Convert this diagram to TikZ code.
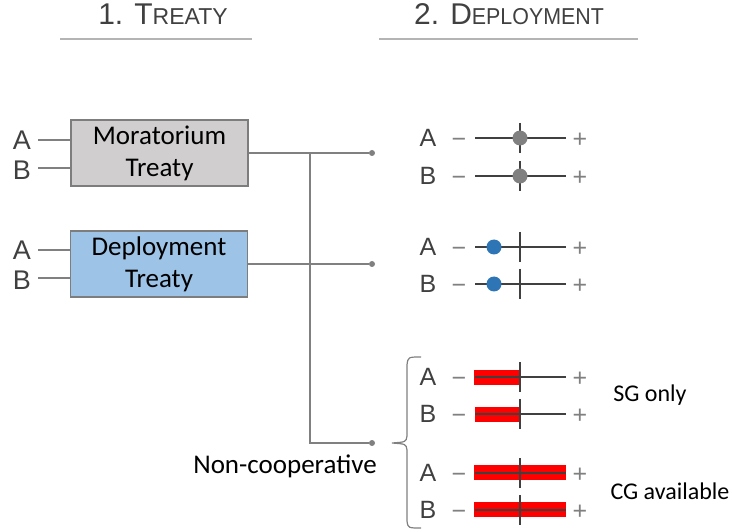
\documentclass[tikz,border=0pt]{standalone}
\usepackage{fontspec}
\usepackage{graphicx}
\setmainfont{Liberation Sans}
\newfontfamily\calibri{Carlito}
\usetikzlibrary{positioning}

\definecolor{txtgray}{RGB}{64,64,64}
\definecolor{pmgray}{RGB}{128,128,128}
\definecolor{rulegray}{RGB}{180,180,180}
\definecolor{conngray}{RGB}{128,128,128}
\definecolor{boxline}{RGB}{125,125,125}
\definecolor{morfill}{RGB}{208,206,206}
\definecolor{depfill}{RGB}{157,195,230}
\definecolor{dotblue}{RGB}{46,117,182}
\definecolor{barred}{RGB}{255,0,0}

\tikzset{
  heading/.style={text=txtgray, inner sep=0pt, font=\fontsize{30}{30}\selectfont},
  rule/.style={draw=rulegray, line width=2pt},
  treaty/.style={draw=boxline, line width=1.2pt, minimum width=177pt, minimum height=66pt,
    align=center, inner sep=0pt, font=\calibri\fontsize{27}{32}\selectfont},
  player/.style={text=txtgray, inner sep=2pt, font=\fontsize{27}{27}\selectfont},
  pm/.style={text=pmgray, inner sep=0pt, font=\fontsize{25}{25}\selectfont},
  feed/.style={draw=conngray, line width=1.2pt},
  conn/.style={draw=conngray, line width=1.5pt},
  enddot/.style={circle, fill=conngray, minimum size=6pt, inner sep=0pt},
  scaleline/.style={draw=txtgray, line width=1.5pt},
  graydot/.style={circle, fill=pmgray, minimum size=15pt, inner sep=0pt},
  bluedot/.style={circle, fill=dotblue, minimum size=15pt, inner sep=0pt},
  redbar/.style={fill=barred},
  note/.style={inner sep=0pt, font=\calibri\fontsize{24}{24}\selectfont},
}

% one slider row: name, y, player
\newcommand{\scalerow}[3]{%
  \node[player, font=\fontsize{25}{25}\selectfont] (#1) at (428,#2) {#3};
  \node[pm] (#1m) at (459,#2+5) {\symbol{"2212}};
  \node[pm] (#1p) at (580,#2+2) {+};
  \draw[scaleline] (475,#2) -- (566,#2);
  \draw[scaleline] (520,#2-15) -- (520,#2+15);
}

\begin{document}
\begin{tikzpicture}[x=1pt,y=-1pt]
  \useasboundingbox (0,0) rectangle (732,532);

  % headings
  \node[heading] (h1) at (163,14) {1. T{\fontsize{23}{23}\selectfont REATY}};
  \node[heading] (h2) at (509,14) {2. D\scalebox{0.93}[1]{\fontsize{23}{23}\selectfont EPLOYMENT}};
  \draw[rule] (60,39) -- (252,39);
  \draw[rule] (379,39) -- (638,39);

  % treaties
  \node[treaty, fill=morfill] (mor) at (159.5,153) {Moratorium\\Treaty};
  \node[treaty, fill=depfill] (dep) at (159,264) {Deployment\\Treaty};

  \node[player] (morA) at (22,140) {A};
  \node[player] (morB) at (22,170) {B};
  \node[player] (depA) at (22,250) {A};
  \node[player] (depB) at (22,280) {B};
  \draw[feed] ([xshift=5pt]morA.east |- 0,140) -- (mor.west |- 0,140);
  \draw[feed] ([xshift=5pt]morB.east |- 0,168) -- (mor.west |- 0,168);
  \draw[feed] ([xshift=5pt]depA.east |- 0,250) -- (dep.west |- 0,250);
  \draw[feed] ([xshift=5pt]depB.east |- 0,278) -- (dep.west |- 0,278);

  % outcomes
  \node[enddot] (outmor) at (372,153) {};
  \node[enddot] (outdep) at (372,264) {};
  \node[enddot] (outnc) at (372,443) {};
  \coordinate (split) at (310,153);
  \draw[conn] (mor.east) -- (outmor);
  \draw[conn] (dep.east) -- (outdep);
  \draw[conn] (split) |- (outnc);
  \node[note, font=\calibri\fontsize{27}{27}\selectfont] (nc) at (285,466) {Non-cooperative};

  \draw[draw=conngray, line width=1.2pt]
    (421,357) .. controls (408,357) .. (407,365) -- (407,436)
    .. controls (406,442) .. (392,443)
    .. controls (406,444) .. (407,450) -- (407,521)
    .. controls (408,528) .. (421,528);

  % red ranges
  \fill[redbar] (474,370) rectangle (519,385);
  \fill[redbar] (475,407) rectangle (519,422);
  \fill[redbar] (474,465) rectangle (566,480);
  \fill[redbar] (474,502) rectangle (566,517);

  \scalerow{r1}{138}{A}
  \scalerow{r2}{176}{B}
  \scalerow{r3}{247}{A}
  \scalerow{r4}{284}{B}
  \scalerow{r5}{377}{A}
  \scalerow{r6}{414}{B}
  \scalerow{r7}{473}{A}
  \scalerow{r8}{510}{B}

  \node[graydot] (d1) at (520,138) {};
  \node[graydot] (d2) at (520,176) {};
  \node[bluedot] (d3) at (494,247) {};
  \node[bluedot] (d4) at (494,284) {};

  \node[note] (sg) at (650,395) {SG only};
  \node[note] (cg) at (670,491) {CG available};
\end{tikzpicture}
\end{document}
